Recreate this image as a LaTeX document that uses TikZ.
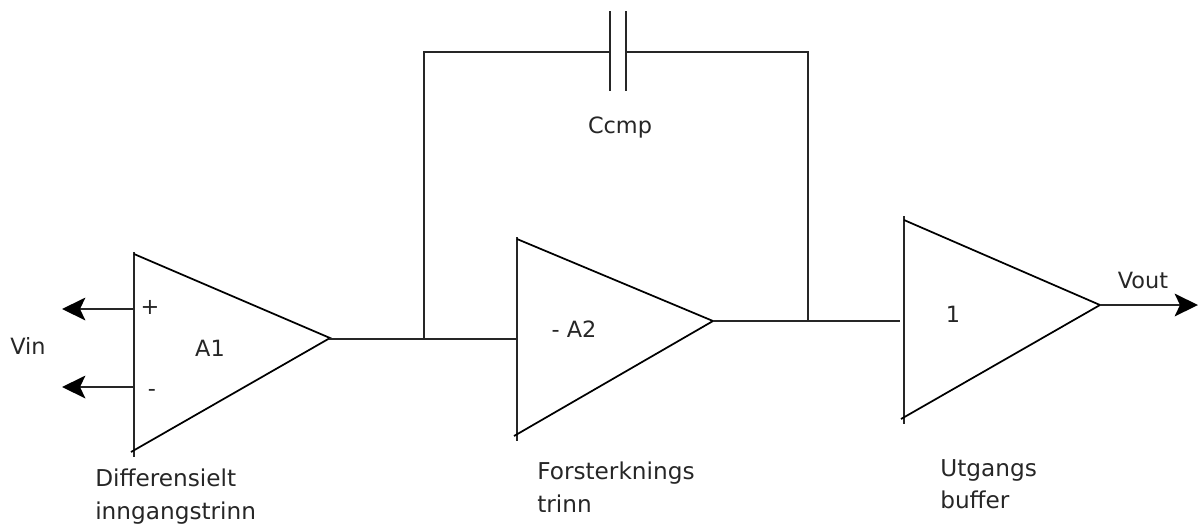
\documentclass[tikz,border=0pt]{standalone}
\usepackage{fontspec}
\setmainfont{DejaVu Sans}
\usetikzlibrary{arrows.meta}
\definecolor{ink}{HTML}{262626}
\tikzset{
  x=0.75pt,y=-0.75pt,
  wire/.style={draw=ink,line width=1.6pt},
  bar/.style={draw=ink,line width=1.7pt},
  slant/.style={draw=black,line width=1.3pt},
  arrowwire/.style={wire,-{Stealth[length=17.5pt,width=17pt,inset=4pt,color=black]}},
  lab/.style={text=ink,inner sep=0pt,font=\fontsize{16.8pt}{20pt}\selectfont},
  multi/.style={lab,align=left,font=\fontsize{17.4pt}{24.5pt}\selectfont,anchor=north west}
}
\begin{document}
\begin{tikzpicture}
\useasboundingbox (0,0) rectangle (1198,526);
% amplifier A1
\coordinate (a1t) at (134,252);
\coordinate (a1b) at (134,457);
\coordinate (a1s) at (134,254);
\coordinate (a1e) at (131,452);
\coordinate (a1o) at (330,338);
\coordinate (a1p) at (134,309);
\coordinate (a1m) at (134,387);
\coordinate (vp) at (62,309);
\coordinate (vm) at (62,387);
% amplifier A2
\coordinate (a2t) at (517,237);
\coordinate (a2b) at (517,441);
\coordinate (a2s) at (517,239);
\coordinate (a2e) at (514,436);
\coordinate (a2o) at (713,321);
\coordinate (a2i) at (517,339);
% amplifier A3
\coordinate (a3t) at (904,216);
\coordinate (a3b) at (904,424);
\coordinate (a3s) at (904,220);
\coordinate (a3e) at (901,419);
\coordinate (a3o) at (1100,305);
\coordinate (a3i) at (900,321);
\coordinate (vo) at (1198,305);
% feedback
\coordinate (j1) at (424,339);
\coordinate (j2) at (808,321);
\coordinate (c1) at (610,52);
\coordinate (c2) at (626,52);
\coordinate (c1t) at (610,11);
\coordinate (c1b) at (610,91);
\coordinate (c2t) at (626,11);
\coordinate (c2b) at (626,91);

\draw[bar] (a1t) -- (a1b);
\draw[slant] (a1s) -- (a1o) -- (a1e);
\draw[bar] (a2t) -- (a2b);
\draw[slant] (a2s) -- (a2o) -- (a2e);
\draw[bar] (a3t) -- (a3b);
\draw[slant] (a3s) -- (a3o) -- (a3e);

\draw[arrowwire] (a1p) -- (vp);
\draw[arrowwire] (a1m) -- (vm);
\draw[arrowwire] (a3o) -- (vo);
\draw[wire] (a1o) -- (330,339) -- (j1) -- (a2i);
\draw[wire] (a2o) -- (j2) -- (a3i);
\draw[wire] (j1) -- (424,52) -- (c1);
\draw[wire] (c2) -- (808,52) -- (j2);
\draw[bar] (c1t) -- (c1b);
\draw[bar] (c2t) -- (c2b);

\node[lab,anchor=base] (plus) at (150,314) {+};
\node[lab,anchor=base] (minus) at (152,396) {-};
\node[lab,anchor=base] (ta1) at (210,356) {A1};
\node[lab,anchor=base] (ta2) at (574,337) {- A2};
\node[lab,anchor=base] (ta3) at (953,322) {1};
\node[lab,anchor=base west] (tvin) at (10,354) {Vin};
\node[lab,anchor=base] (tvout) at (1143,288) {Vout};
\node[lab,anchor=base] (tc) at (620,133) {Ccmp};
\node[multi] (d1) at (95,469) {Differensielt\\inngangstrinn};
\node[multi] (d2) at (537,462) {Forsterknings\\trinn};
\node[multi] (d3) at (940,459) {Utgangs\\buffer};
\end{tikzpicture}
\end{document}
